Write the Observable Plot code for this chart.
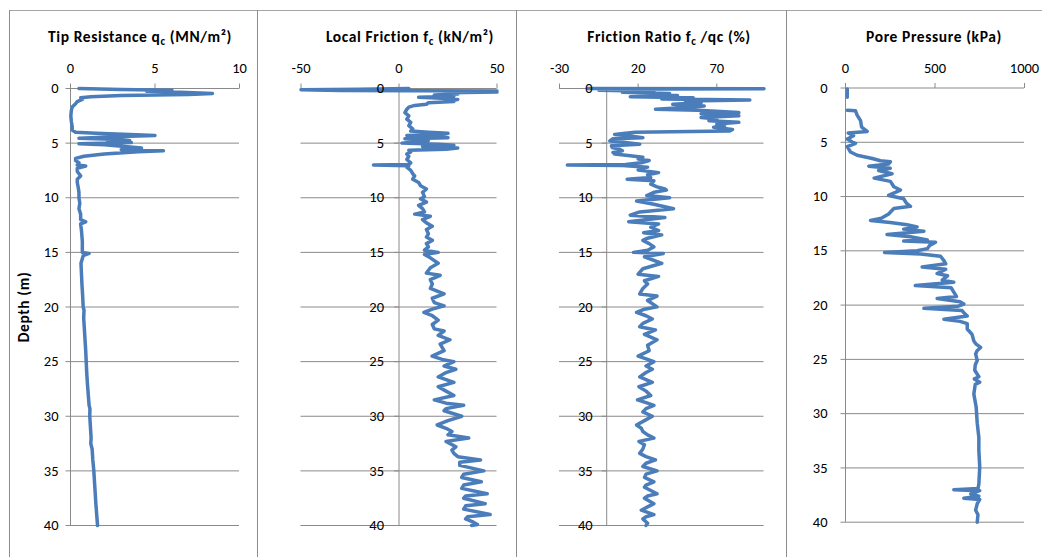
<!DOCTYPE html>
<html><head><meta charset="utf-8">
<script src="https://cdn.jsdelivr.net/npm/d3@7"></script>
<script src="https://cdn.jsdelivr.net/npm/@observablehq/plot@0.6"></script>
<style>
body{margin:0;background:#fff;}
#chart{position:relative;width:1042px;height:557px;overflow:hidden;font-family:Carlito, Lato, "Open Sans", sans-serif;background:#fff;}
.vline{position:absolute;top:10px;bottom:0;width:0;border-left:1px solid #8c8c8c;}
.hline{position:absolute;top:10px;left:9px;right:0;height:0;border-top:1px solid #a6a6a6;}
.title{position:absolute;top:27px;transform:translateX(-50%);font-weight:bold;font-size:15.5px;letter-spacing:0.6px;white-space:nowrap;color:#000;}
.title sub{font-size:11px;vertical-align:-3px;line-height:0;}
.panel{position:absolute;top:0;}
.ylab{position:absolute;left:23px;top:307px;transform:translate(-50%,-50%) rotate(-90deg);font-weight:bold;font-size:15.5px;letter-spacing:0.6px;white-space:nowrap;}
</style>
</head><body>
<div id="chart">
  <div class="hline"></div>
  <div class="vline" style="left:9px"></div>
  <div class="vline" style="left:257px"></div>
  <div class="vline" style="left:516px"></div>
  <div class="vline" style="left:786px"></div>
  <div class="title" style="left:140px">Tip Resistance q<sub>c</sub> (MN/m²)</div>
  <div class="title" style="left:410px">Local Friction f<sub>c</sub> (kN/m²)</div>
  <div class="title" style="left:669px">Friction Ratio f<sub>c</sub> /qc (%)</div>
  <div class="title" style="left:934px">Pore Pressure (kPa)</div>
  <div class="ylab">Depth (m)</div>
</div>
<script>
// ---- tick labels ----
const depthTicks = [0, 5, 10, 15, 20, 25, 30, 35, 40];
const qcTicks = [0, 5, 10];
const fsTicks = [-50, 0, 50];
const rfTicks = [-30, 20, 70];
const uTicks = [0, 500, 1000];

// ---- Tip resistance qc (MN/m2) ----
const qcDepth = [0.0,0.1,0.15,0.25,0.35,0.45,0.55,0.65,0.75,0.85,1.0,1.2,1.4,1.7,2.0,2.5,3.0,3.5,3.8,4.0,4.1,4.2,4.3,4.4,4.55,4.65,4.75,4.85,4.95,5.05,5.15,5.3,5.45,5.6,5.7,5.8,6.0,6.2,6.4,6.6,6.8,7.0,7.1,7.3,7.6,8.0,8.3,8.6,9.0,9.5,10.0,10.5,11.0,11.5,12.0,12.2,12.4,13.0,14.0,15.0,15.1,15.3,16,17,18,19,20,20.3,21,22,23,24,25,26,27,28,29,29.3,30,31,32,32.5,33,34,35,36,37,38,39,40];
const qcValue = [0.5,3.0,6.0,4.5,6.5,8.4,7.0,3.0,1.2,0.6,0.7,0.4,0.3,0.1,0.05,0.02,0.05,0.1,0.1,0.3,1.5,3.5,5.0,3.0,0.5,2.5,3.5,2.2,3.6,0.5,2.0,3.2,4.2,3.0,5.5,4.0,2.0,0.8,0.3,0.3,0.5,0.4,0.9,0.4,0.4,0.6,0.4,0.4,0.45,0.5,0.5,0.55,0.5,0.6,0.6,0.9,0.6,0.65,0.7,0.7,1.1,0.75,0.62,0.65,0.68,0.72,0.75,0.8,0.78,0.82,0.86,0.9,0.93,0.96,1.0,1.05,1.1,1.15,1.14,1.18,1.22,1.2,1.28,1.32,1.38,1.42,1.46,1.5,1.55,1.6];

// ---- Local friction fs (kN/m2) ----
const fsDepth = [0,0.08,0.12,0.18,0.22,0.28,0.33,0.4,0.5,0.6,0.7,0.8,0.9,1.0,1.1,1.2,1.3,1.45,1.55,1.7,1.9,2.2,2.5,2.8,3.1,3.4,3.7,3.9,4.0,4.1,4.2,4.3,4.4,4.5,4.6,4.75,4.85,5.0,5.1,5.2,5.3,5.45,5.55,5.65,5.8,6.0,6.2,6.5,6.8,6.95,7.0,7.08,7.2,7.5,7.8,8.0,8.3,8.6,8.9,9.2,9.5,9.9,10.1,10.4,10.7,11.0,11.3,11.5,11.7,12.0,12.3,12.6,12.9,13.3,13.6,13.9,14.2,14.5,14.8,15.0,15.2,15.5,16.0,16.4,16.9,17.1,17.5,17.9,18.3,18.8,19.2,19.6,19.9,20.2,20.5,20.8,21.2,21.6,22.0,22.2,22.6,23.0,23.4,24.0,24.5,24.8,25.0,25.4,25.7,26.0,26.4,26.9,27.3,27.7,28.1,28.5,28.8,29.0,29.3,29.5,30.0,30.4,30.8,31.1,31.4,31.7,32.0,32.3,32.8,33.1,33.4,33.7,34.0,34.2,34.5,35.0,35.3,35.6,36.0,36.3,36.6,37.1,37.3,37.5,38.0,38.2,38.5,39.0,39.2,39.4,39.7,39.9,40.0];
const fsValue = [5,-20,-50,-30,50,35,50,25,30,18,28,10,22,30,26,28,15,14,8,5,4,3,5,4,6,5,7,6,15,25,20,4,22,25,3,15,10,1.5,20,28,12,30,24,5,6,4,5,4,6,5,-13,5,4,6,7,8,7,10,11,14,12,13,11,14,10,12,13,8,16,12,14,17,14,15,14,17,14,15,13,20,13,16,20,16,14,21,16,17,16,23,17,18,23,17,12.7,17,20,17,18,23,20,26,21,23,16.9,22,28,23,29,24,20,28,20,24,28,18,24,33,24,23,32,25,19.5,24,27,25,35.6,24,29,27,28,30,41.6,31,31,43.3,33,32,42,33,32,45,34,33,44,34,33,46.5,35,34,38,40,37];

// ---- Friction ratio (%) ----
const rfDepth = [0,0.03,0.08,0.15,0.25,0.35,0.45,0.55,0.65,0.75,0.85,0.95,1.05,1.15,1.3,1.45,1.6,1.75,1.9,2.0,2.2,2.3,2.5,2.65,2.8,2.95,3.1,3.25,3.4,3.55,3.75,3.9,4.0,4.1,4.2,4.35,4.5,4.6,4.8,4.95,5.1,5.25,5.4,5.55,5.7,5.85,6.0,6.15,6.3,6.45,6.6,6.8,6.95,7.0,7.05,7.2,7.45,7.7,7.9,8.15,8.3,8.45,8.75,9.0,9.2,9.3,9.5,9.8,10.0,10.3,10.6,11.0,11.3,11.6,11.8,12.2,12.4,12.7,13.0,13.2,13.4,13.7,13.9,14.2,14.5,14.8,15.0,15.1,15.4,16.0,16.5,17.0,17.2,17.6,17.9,18.3,18.8,19.0,19.4,19.99,20.2,20.5,20.8,21.1,21.5,21.8,22.1,22.5,23.0,23.5,24.0,24.5,24.8,25.0,25.4,25.7,26.0,26.4,26.9,27.3,27.7,28.1,28.5,28.8,29.0,29.3,29.6,30.0,30.4,30.8,31.1,31.4,31.7,32.0,32.3,32.6,33.0,33.4,33.7,34.0,34.3,34.6,35.0,35.3,35.6,36.0,36.3,36.5,37.1,37.3,37.5,38.0,38.3,38.6,39.0,39.2,39.4,39.8,40.0];
const rfValue = [-12,100,20,-5,30,10,40,25,45,15,55,35,91,50,60,42,62,50,31,58,84,60,84,60,70,65,84,70,75,68,80,78,18,12,5,15,23,4,2,12,21,3,3.5,8,10,4,5,15,23,20,27,22,12,-25,10,26,20,33,26,28,13,30,28,32,37,38,30,25.5,40,19,30,42.5,21,15,37,14,33,28,33,23.5,35,26,23,27,30,26,17,36,24,35,23,20,33,24,26,23,21,32,26,32,24,19,25,29,23,21,31,24,32,26,27,20,26,30,25,29,25,21,29,20.5,25,28,19.6,26,30,25,23,29,24,19,22,23,26,30,20.5,24,23,21,25,31,25,23,32,25,24,30,25,24,32,26,24,30,26,22,30,25,23,26,25];

// ---- Pore pressure (kPa) ----
const uDepth = [0.1,0.85,1.5,2.05,2.1,2.5,3.0,3.6,4.0,4.15,4.4,4.7,5.0,5.1,5.4,5.9,6.2,6.5,6.7,6.8,7.0,7.2,7.4,7.6,7.9,8.3,8.6,9.1,9.4,9.9,10.2,10.6,10.9,11.1,11.6,12.0,12.2,12.4,12.6,12.8,13.0,13.2,13.5,13.7,14.0,14.1,14.2,14.5,14.8,15.0,15.15,15.3,15.5,15.9,16.2,16.5,16.7,17.1,17.3,17.7,17.9,18.2,18.4,18.8,19.2,19.4,19.7,19.9,20.1,20.3,20.5,20.7,21.0,21.3,21.5,21.7,22.2,22.7,23.3,23.6,23.9,24.2,24.5,25.1,25.5,26.0,26.6,26.8,27.1,27.3,28.2,29.4,30.9,32.2,33.4,34.9,36.5,36.9,37.0,37.1,37.4,37.6,37.8,37.9,38.3,38.9,39.3,40.0];
const uValue = [10,10,null,10,56,65,84,90,121,15,45,10,40,56,10,28,65,150,195,251,240,130,250,185,260,160,251,270,307,241,325,340,363,270,241,200,140,250,344,400,325,438,232,363,457,325,503,470,457,400,218,420,531,550,560,428,560,512,570,540,605,390,590,605,620,512,640,661,630,438,650,661,680,550,640,680,680,707,717,730,755,735,727,736,725,722,745,720,750,725,717,730,736,745,745,750,745,740,605,750,700,745,661,750,736,727,740,736];

const grid = "#8a8a8a";
const blue = "#4a7dba";
const font = "Carlito, Lato, 'Open Sans', sans-serif";

// short tick-mark symbols (5px), pointing left and up
const tickLeft = {draw(ctx) { ctx.moveTo(0, 0); ctx.lineTo(-5, 0); }};
const tickUp = {draw(ctx) { ctx.moveTo(0, 0); ctx.lineTo(0, -5); }};

function panel({left, width, mL, mR, mT, mB, xDomain, xTicks, depth, values, labelDx}) {
  const data = depth.map((d, i) => ({d, v: values[i]}));
  const svg = Plot.plot({
    width, height: 557,
    marginLeft: mL, marginRight: mR, marginTop: mT, marginBottom: mB,
    x: {domain: xDomain, axis: null},
    y: {domain: [0, 40], reverse: true, axis: null},
    style: {background: "transparent", overflow: "visible", fontFamily: font, fontSize: "14px", color: "#000"},
    marks: [
      Plot.ruleY(depthTicks, {stroke: grid, strokeWidth: 1}),
      Plot.ruleX([0], {y1: 0, y2: 40, stroke: grid}),
      Plot.dot(depthTicks, {x: 0, y: d => d, symbol: tickLeft, fill: "none", stroke: grid, strokeWidth: 1}),
      Plot.dot(xTicks, {x: d => d, y: 0, symbol: tickUp, fill: "none", stroke: grid, strokeWidth: 1}),
      Plot.line(data, {x: "v", y: "d", stroke: blue, strokeWidth: 3.5, strokeLinejoin: "round", strokeLinecap: "round"}),
      Plot.text(xTicks, {x: d => d, y: 0, text: d => String(d), dy: -20, fontSize: 14.5, fill: "#000"}),
      Plot.text(depthTicks, {x: 0, y: d => d, text: d => String(d), textAnchor: "end", dx: labelDx, fontSize: 14.5, fill: "#000"})
    ]
  });
  svg.classList.add("panel");
  svg.style.position = "absolute";
  svg.style.left = left + "px";
  svg.style.top = "0px";
  svg.style.maxWidth = "none";
  document.getElementById("chart").appendChild(svg);
}

panel({left: 9, width: 248, mL: 61, mR: 18, mT: 88, mB: 32, xDomain: [0, 10], xTicks: qcTicks, depth: qcDepth, values: qcValue, labelDx: -12});
panel({left: 257, width: 259, mL: 43.5, mR: 19.5, mT: 88, mB: 32, xDomain: [-50, 50], xTicks: fsTicks, depth: fsDepth, values: fsValue, labelDx: -15});
panel({left: 516, width: 270, mL: 43, mR: 22.5, mT: 88, mB: 32, xDomain: [-30, 100], xTicks: rfTicks, depth: rfDepth, values: rfValue, labelDx: -14});
panel({left: 786, width: 256, mL: 59, mR: 18, mT: 87.5, mB: 35.3, xDomain: [0, 1000], xTicks: uTicks, depth: uDepth, values: uValue, labelDx: -18});
</script>
</body></html>
